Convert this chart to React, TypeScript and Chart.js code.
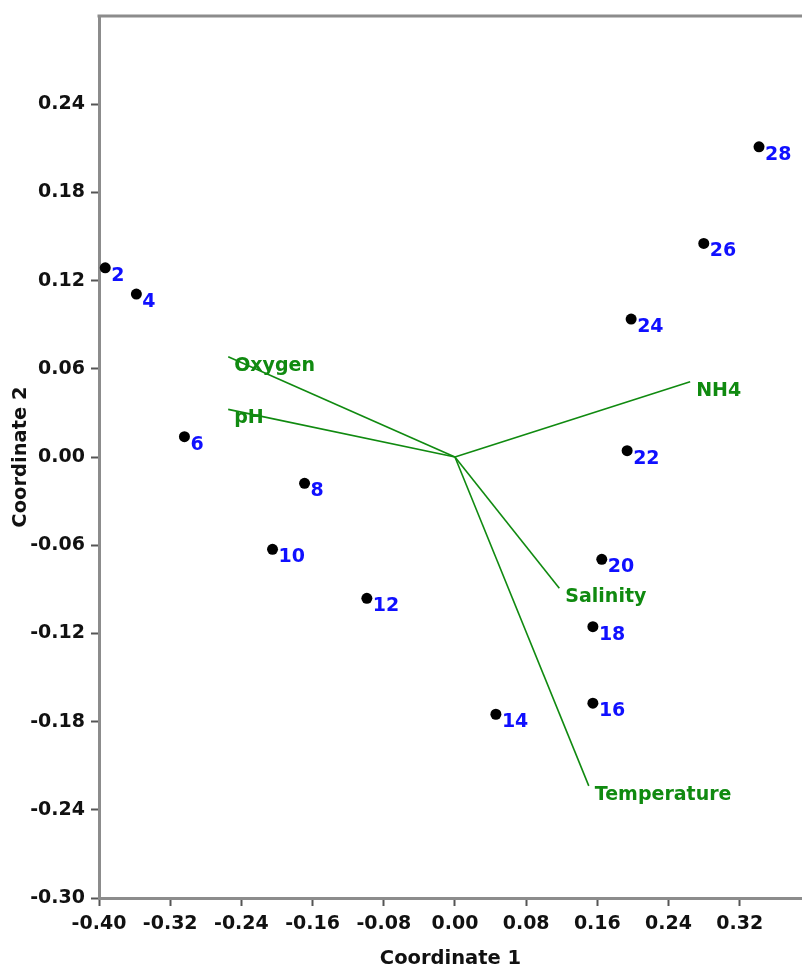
import React, { useEffect, useRef } from 'react';
import { Chart, registerables } from 'chart.js';

Chart.register(...registerables);

const sampleLabels = ['2', '4', '6', '8', '10', '12', '14', '16', '18', '20', '22', '24', '26', '28'];
const coord1 = [-0.393, -0.358, -0.304, -0.169, -0.205, -0.099, 0.046, 0.155, 0.155, 0.165, 0.1935, 0.198, 0.2796, 0.3417];
const coord2 = [0.1287, 0.1108, 0.0138, -0.0179, -0.0628, -0.0961, -0.175, -0.1675, -0.1154, -0.0696, 0.0043, 0.0938, 0.1453, 0.211];

const variableNames = ['Oxygen', 'pH', 'NH4', 'Salinity', 'Temperature'];
const vectorX = [-0.2548, -0.2548, 0.2643, 0.1173, 0.1504];
const vectorY = [0.0682, 0.0324, 0.0512, -0.0893, -0.2237];

const xTicks = [-0.4, -0.32, -0.24, -0.16, -0.08, 0.0, 0.08, 0.16, 0.24, 0.32];
const yTicks = [-0.3, -0.24, -0.18, -0.12, -0.06, 0.0, 0.06, 0.12, 0.18, 0.24];

const FONT_FAMILY = '"DejaVu Sans", Verdana, sans-serif';
const AXIS_GRAY = '#8c8c8c';
const GREEN = '#108a10';
const BLUE = '#1010ff';

const stretchPlugin = {
  id: 'stretchRight',
  afterLayout(chart: any) {
    const xs = chart.scales.x;
    const W = chart.width;
    xs.right = W;
    xs.width = W - xs.left;
    chart.chartArea.right = W;
    chart.chartArea.width = W - chart.chartArea.left;
    xs.configure();
  },
};

const labelsPlugin = {
  id: 'biplotLabels',
  afterDatasetsDraw(chart: any) {
    const ctx = chart.ctx;
    const area = chart.chartArea;
    ctx.save();
    // top frame line
    ctx.strokeStyle = AXIS_GRAY;
    ctx.lineWidth = 3;
    ctx.beginPath();
    ctx.moveTo(area.left - 1.5, area.top);
    ctx.lineTo(chart.width, area.top);
    ctx.stroke();

    ctx.font = `bold 19px ${FONT_FAMILY}`;
    ctx.textAlign = 'left';
    ctx.textBaseline = 'middle';
    // sample labels
    const pts = chart.getDatasetMeta(variableNames.length).data;
    ctx.fillStyle = BLUE;
    pts.forEach((el: any, i: number) => {
      ctx.fillText(sampleLabels[i], el.x + 6, el.y + 8);
    });
    // vector labels
    ctx.fillStyle = GREEN;
    variableNames.forEach((name, i) => {
      const el = chart.getDatasetMeta(i).data[1];
      ctx.fillText(name, el.x + 6, el.y + 9);
    });
    ctx.restore();
  },
};

const zeroScalePadding = (scale: any) => {
  scale.paddingTop = 0;
  scale.paddingBottom = 0;
  scale.paddingLeft = 0;
  scale.paddingRight = 0;
};

export default function App() {
  const canvasRef = useRef<HTMLCanvasElement | null>(null);

  useEffect(() => {
    if (!canvasRef.current) return;
    const vectorDatasets = variableNames.map((name, i) => ({
      type: 'scatter' as const,
      label: name,
      data: [
        { x: 0, y: 0 },
        { x: vectorX[i], y: vectorY[i] },
      ],
      showLine: true,
      borderColor: GREEN,
      borderWidth: 1.6,
      pointRadius: 0,
      pointHoverRadius: 0,
      fill: false,
    }));
    const pointDataset = {
      type: 'scatter' as const,
      label: 'Samples',
      data: coord1.map((x, i) => ({ x, y: coord2[i] })),
      backgroundColor: '#000',
      borderColor: '#000',
      pointRadius: 5.5,
      pointBorderWidth: 0,
      showLine: false,
    };

    const tickFont = { family: FONT_FAMILY, size: 19, weight: 'bold' as const };
    const chart = new Chart(canvasRef.current, {
      type: 'scatter',
      data: { datasets: [...vectorDatasets, pointDataset] as any },
      options: {
        animation: false,
        responsive: false,
        maintainAspectRatio: false,
        devicePixelRatio: 1,
        layout: { padding: { top: 16, right: 0, left: 0, bottom: 0 } },
        plugins: {
          legend: { display: false },
          tooltip: { enabled: false },
        },
        scales: {
          x: {
            type: 'linear',
            min: -0.4,
            max: 0.39,
            afterBuildTicks: (scale: any) => {
              scale.ticks = xTicks.map((v) => ({ value: v }));
            },
            afterFit: (scale: any) => {
              scale.height = 71;
              zeroScalePadding(scale);
            },
            ticks: {
              font: tickFont,
              color: '#111',
              padding: 7,
              maxRotation: 0,
              autoSkip: false,
              callback: (v: any) => Number(v).toFixed(2),
            },
            grid: {
              display: true,
              drawOnChartArea: false,
              drawTicks: true,
              tickLength: 8,
              tickColor: '#555',
              tickWidth: 2,
            },
            border: { display: true, color: AXIS_GRAY, width: 3 },
            title: {
              display: true,
              text: 'Coordinate 1',
              color: '#111',
              font: { family: FONT_FAMILY, size: 19.5, weight: 'bold', lineHeight: 1 },
              padding: { top: 0, bottom: 0 },
            },
          },
          y: {
            type: 'linear',
            min: -0.3,
            max: 0.3,
            afterBuildTicks: (scale: any) => {
              scale.ticks = yTicks.map((v) => ({ value: v }));
            },
            afterFit: (scale: any) => {
              scale.width = 99;
              zeroScalePadding(scale);
            },
            ticks: {
              font: tickFont,
              color: '#111',
              padding: 6,
              autoSkip: false,
              callback: (v: any) => Number(v).toFixed(2),
            },
            grid: {
              display: true,
              drawOnChartArea: false,
              drawTicks: true,
              tickLength: 8,
              tickColor: '#555',
              tickWidth: 2,
            },
            border: { display: true, color: AXIS_GRAY, width: 3 },
            title: {
              display: true,
              text: 'Coordinate 2',
              color: '#111',
              font: { family: FONT_FAMILY, size: 19.5, weight: 'bold', lineHeight: 1 },
              padding: { top: 11, bottom: 0 },
            },
          },
        },
      },
      plugins: [stretchPlugin, labelsPlugin],
    });
    return () => chart.destroy();
  }, []);

  return (
    <div style={{ position: 'fixed', left: 0, top: 0, width: 802, height: 969, background: '#fff' }}>
      <canvas ref={canvasRef} width={802} height={969} style={{ display: 'block', width: 802, height: 969 }} />
    </div>
  );
}
